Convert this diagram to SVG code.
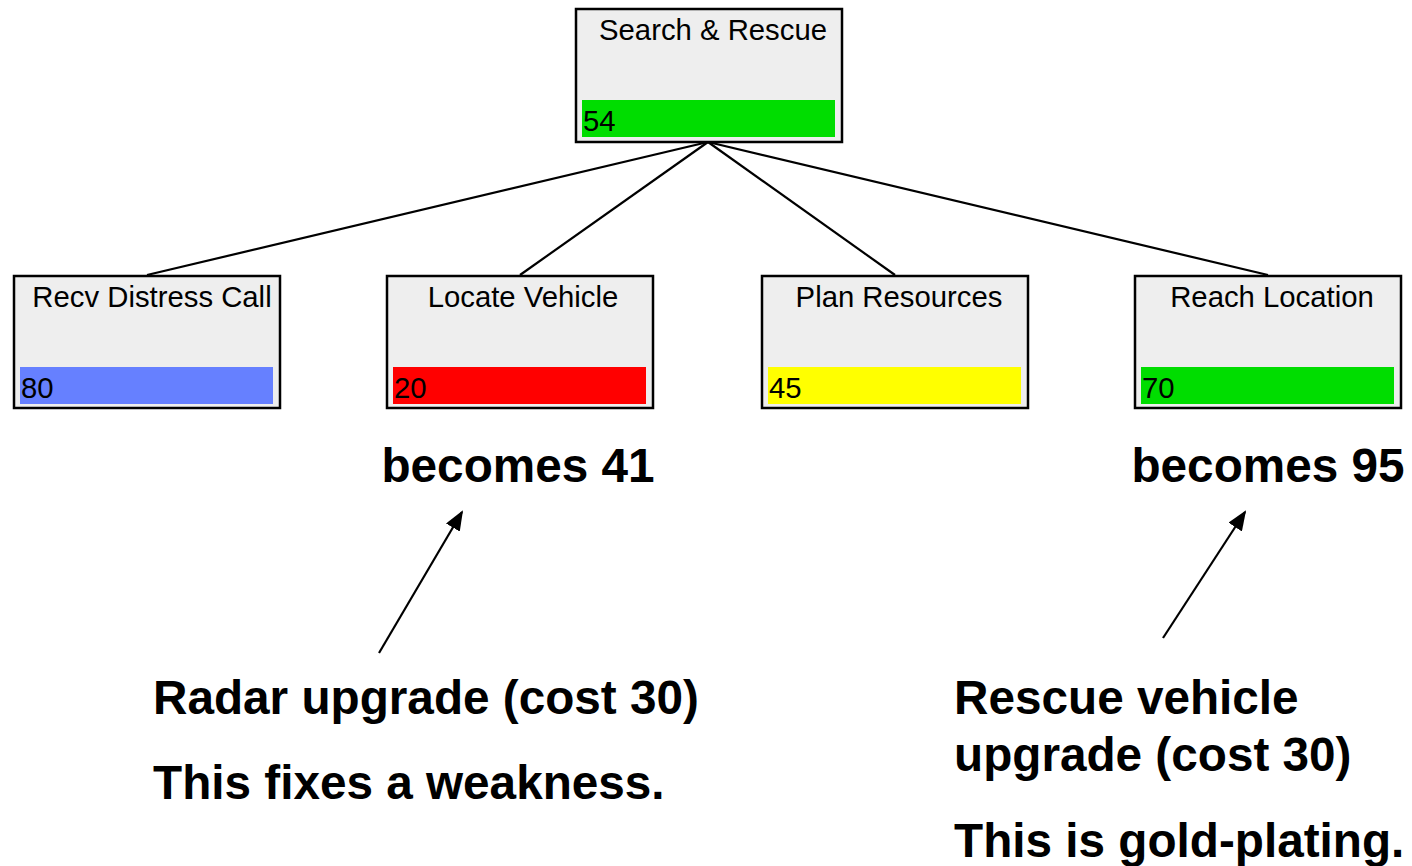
<svg xmlns="http://www.w3.org/2000/svg" width="1412" height="866" viewBox="0 0 1412 866">
<defs>
<style>
.box{fill:#eeeeee;stroke:#000;stroke-width:2.5}
.t{font-family:"Liberation Sans",Arial,sans-serif;font-size:29.3px;fill:#000}
.ttl{text-anchor:middle}
.b{font-family:"Liberation Sans",Arial,sans-serif;font-size:47.7px;font-weight:bold;fill:#000}
.ln{stroke:#000;stroke-width:2.2;fill:none}
</style>
<marker id="ah2" viewBox="0 0 20 16" refX="18" refY="8" markerWidth="20" markerHeight="16" orient="auto" markerUnits="userSpaceOnUse">
<path d="M0,0 L20,8 L0,16 z" fill="#000"/>
</marker>
</defs>
<rect width="1412" height="866" fill="#fff"/>
<g id="connectors">
<line class="ln" x1="708" y1="142" x2="147" y2="275"/>
<line class="ln" x1="708" y1="142" x2="520" y2="275"/>
<line class="ln" x1="708" y1="142" x2="895" y2="275"/>
<line class="ln" x1="708" y1="142" x2="1268" y2="275"/>
<line class="ln" x1="379" y1="653" x2="462" y2="512" marker-end="url(#ah2)"/>
<line class="ln" x1="1163" y1="638" x2="1245" y2="512" marker-end="url(#ah2)"/>
</g>
<g id="n-root">
<rect class="box" x="576" y="9" width="266" height="133"/>
<rect x="582" y="100" width="253" height="37" fill="#00dd00"/>
<text class="t ttl" x="713" y="40">Search &amp; Rescue</text>
<text class="t" x="583" y="131">54</text>
</g>
<g id="n-recv">
<rect class="box" x="14" y="276" width="266" height="132"/>
<rect x="20" y="367" width="253" height="37" fill="#6680ff"/>
<text class="t ttl" x="152" y="307">Recv Distress Call</text>
<text class="t" x="21" y="398">80</text>
</g>
<g id="n-locate">
<rect class="box" x="387" y="276" width="266" height="132"/>
<rect x="393" y="367" width="253" height="37" fill="#ff0000"/>
<text class="t ttl" x="523" y="307">Locate Vehicle</text>
<text class="t" x="394" y="398">20</text>
</g>
<g id="n-plan">
<rect class="box" x="762" y="276" width="266" height="132"/>
<rect x="768" y="367" width="253" height="37" fill="#ffff00"/>
<text class="t ttl" x="899" y="307">Plan Resources</text>
<text class="t" x="769" y="398">45</text>
</g>
<g id="n-reach">
<rect class="box" x="1135" y="276" width="266" height="132"/>
<rect x="1141" y="367" width="253" height="37" fill="#00dd00"/>
<text class="t ttl" x="1272" y="307">Reach Location</text>
<text class="t" x="1142" y="398">70</text>
</g>
<g id="labels">
<text class="b" x="518" y="482" text-anchor="middle">becomes 41</text>
<text class="b" x="1268" y="482" text-anchor="middle">becomes 95</text>
<text class="b" x="153" y="714">Radar upgrade (cost 30)</text>
<text class="b" x="153" y="799">This fixes a weakness.</text>
<text class="b" x="954" y="714">Rescue vehicle</text>
<text class="b" x="954" y="771">upgrade (cost 30)</text>
<text class="b" x="954" y="857">This is gold-plating.</text>
</g>
</svg>
